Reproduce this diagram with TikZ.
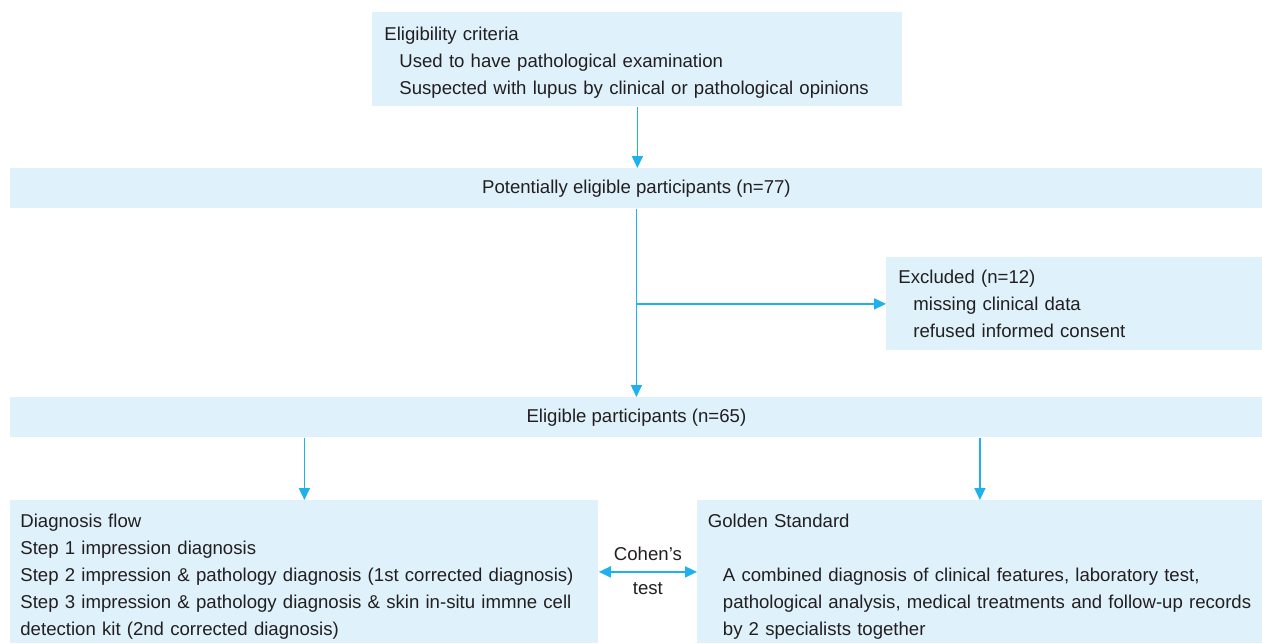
\documentclass[tikz,border=0pt]{standalone}
\usepackage{fontspec}
\setmainfont{Liberation Sans}
\usepackage{xcolor}
\usetikzlibrary{arrows.meta, positioning, calc}

\definecolor{boxfill}{HTML}{DFF1FA}
\definecolor{flowblue}{HTML}{1FB1EC}
\definecolor{inktext}{HTML}{231F20}

\begin{document}
\begin{tikzpicture}[x=0.5pt, y=-0.5pt, >={Triangle[length=6pt,width=5.5pt]}]
        \tikzset{
            panel/.style={rectangle, fill=boxfill, anchor=north west, inner sep=0pt, text=inktext,
                font=\fontsize{9.3}{13.5}\selectfont},
            listpanel/.style={panel, align=left, inner xsep=6pt},
            flow/.style={->, draw=flowblue, fill=flowblue, line width=0.8pt},
            note/.style={text=inktext, font=\fontsize{9.3}{13.5}\selectfont, inner sep=2pt}
        }
        \useasboundingbox (0,0) rectangle (1262,643);

        \node[listpanel, minimum width=265pt, minimum height=47pt, text width=253pt] (criteria) at (372,12)
            {\rule{0pt}{10pt}Eligibility criteria\\
             \hspace*{7.5pt}Used to have pathological examination\\
             \hspace*{7.5pt}Suspected with lupus by clinical or pathological opinions};
        \node[panel, minimum width=626pt, minimum height=20pt] (potential) at (10,168)
            {Potentially eligible participants (n=77)};
        \node[listpanel, minimum width=188pt, minimum height=46.5pt, text width=176pt] (excluded) at (886,257)
            {Excluded (n=12)\\
             \hspace*{7.5pt}missing clinical data\\
             \hspace*{7.5pt}refused informed consent};
        \node[panel, minimum width=626pt, minimum height=20pt] (eligible) at (10,397)
            {Eligible participants (n=65)};
        \node[listpanel, minimum width=294pt, minimum height=71.5pt, text width=284pt, inner xsep=5pt] (diagflow) at (10,500)
            {\rule{0pt}{12pt}Diagnosis flow\\
             Step 1 impression diagnosis\\
             Step 2 impression \& pathology diagnosis (1st corrected diagnosis)\\
             Step 3 impression \& pathology diagnosis \& skin in-situ immne cell\\
             detection kit (2nd corrected diagnosis)};
        \node[listpanel, minimum width=282.5pt, minimum height=71.5pt, text width=272pt, inner xsep=5.25pt] (golden) at (697,500)
            {\rule{0pt}{12pt}Golden Standard\\[13.5pt]
             \hspace*{7.5pt}A combined diagnosis of clinical features, laboratory test,\\
             \hspace*{7.5pt}pathological analysis, medical treatments and follow-up records\\
             \hspace*{7.5pt}by 2 specialists together};

        \coordinate (split) at (potential.south |- excluded.west);

        \draw[flow] (criteria.south) -- (criteria.south |- potential.north);
        \draw[flow] (potential.south) -- (potential.south |- eligible.north);
        \draw[flow] (split) -- (excluded.west);
        \draw[flow] (eligible.south -| diagflow.north) -- (diagflow.north);
        \draw[flow] (eligible.south -| golden.north) -- (golden.north);
        \draw[flow, <->] (diagflow.east) -- (golden.west)
            node[note, midway, above=3pt] (cohen) {Cohen's}
            node[note, midway, below=3pt] (test) {test};

    \end{tikzpicture}
\end{document}
